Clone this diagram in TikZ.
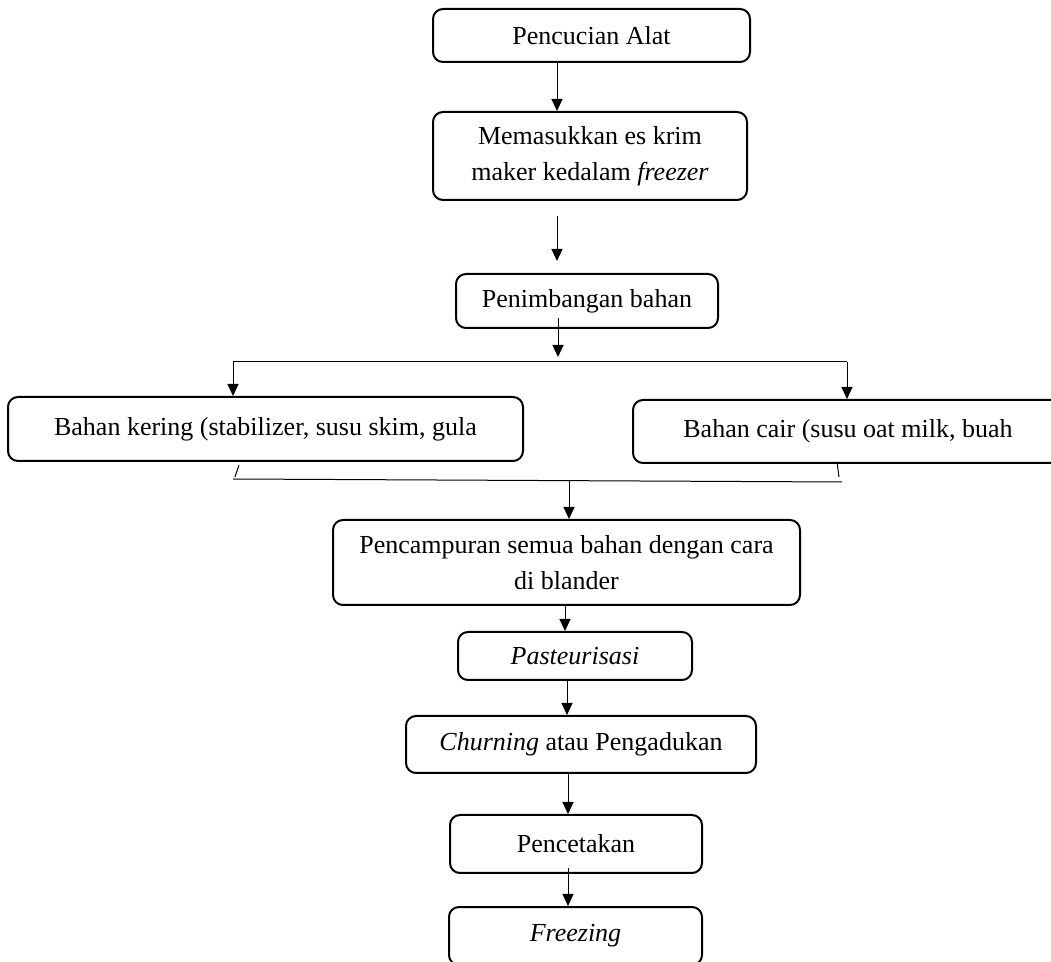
\documentclass[tikz,border=0pt]{standalone}
\usepackage{fontspec}
\setmainfont{Liberation Serif}
\usetikzlibrary{arrows.meta}

\begin{document}
\begin{tikzpicture}[x=0.5pt, y=-0.5pt,
    box/.style={draw, line width=1pt, rounded corners=5pt, align=center, inner sep=0pt, font=\fontsize{13}{18}\selectfont},
    arr/.style={-{Triangle[length=6pt,width=5.5pt]}, line width=0.5pt}]
    % Fix the frame of the picture
    \clip (0,0) rectangle (1051,962);

    % Draw the process boxes
    \node[box, minimum width=158.5pt, minimum height=26.5pt] (cuci) at (591.5,35.5) {Pencucian Alat};
    \node[box, minimum width=157pt, minimum height=44pt] (masuk) at (590,156) {Memasukkan es krim\\maker kedalam \textit{freezer}};
    \node[box, minimum width=131pt, minimum height=27pt] (timbang) at (587,301) {Penimbangan bahan};
    \node[box, minimum width=257.5pt, minimum height=32pt] (kering) at (265.5,429) {Bahan kering (stabilizer, susu skim, gula};
    \node[box, minimum width=215pt, minimum height=31.5pt] (cair) at (848,431.5) {Bahan cair (susu oat milk, buah};
    \node[box, minimum width=233.5pt, minimum height=42.5pt] (campur) at (566.5,562.5) {Pencampuran semua bahan dengan cara\\di blander};
    \node[box, minimum width=117pt, minimum height=24pt] (pasteur) at (575,656) {\textit{Pasteurisasi}};
    \node[box, minimum width=175pt, minimum height=28.5pt] (churn) at (581,744.5) {\textit{Churning} atau Pengadukan};
    \node[box, minimum width=126pt, minimum height=29pt] (cetak) at (576,844) {Pencetakan};
    \node[box, minimum width=126.5pt, minimum height=29pt] (freeze) at (575.5,936) {\textit{Freezing}};

    % Define the x positions of the arrows
    \coordinate (a1) at (557,0);
    \coordinate (a3) at (558,0);
    \coordinate (a5) at (565,0);
    \coordinate (a6) at (567,0);
    \coordinate (a7) at (568,0);

    % Draw the arrows of the upper part
    \draw[arr] (a1 |- cuci.south) -- (a1 |- masuk.north);
    \draw[arr, shorten <=7.5pt, shorten >=6pt] (a1 |- masuk.south) -- (a1 |- timbang.north);

    % Split into the two kinds of ingredients
    \coordinate (kiri) at (233,362);
    \coordinate (kanan) at (847,362);
    \draw[line width=0.5pt] (kiri) -- (kanan);
    \draw[arr, shorten <=-5.5pt, shorten >=2.5pt] (a3 |- timbang.south) -- (a3 |- kiri);
    \draw[arr] (kiri) -- (kiri |- kering.north);
    \draw[arr] (kanan) -- (kanan |- cair.north);

    % Join them again
    \coordinate (gabungL) at (233,479);
    \coordinate (gabungR) at (842,482);
    \coordinate (a4) at (569,480);
    \draw[line width=0.5pt] (239,465) -- (235,477);
    \draw[line width=0.5pt] (837,462) -- (839,477);
    \draw[line width=0.5pt] (gabungL) -- (gabungR);
    \draw[arr] (a4) -- (a4 |- campur.north);

    % Draw the arrows of the lower part
    \draw[arr] (a5 |- campur.south) -- (a5 |- pasteur.north);
    \draw[arr] (a6 |- pasteur.south) -- (a6 |- churn.north);
    \draw[arr] (a7 |- churn.south) -- (a7 |- cetak.north);
    \draw[arr, shorten <=-3pt] (a7 |- cetak.south) -- (a7 |- freeze.north);

\end{tikzpicture}
\end{document}
